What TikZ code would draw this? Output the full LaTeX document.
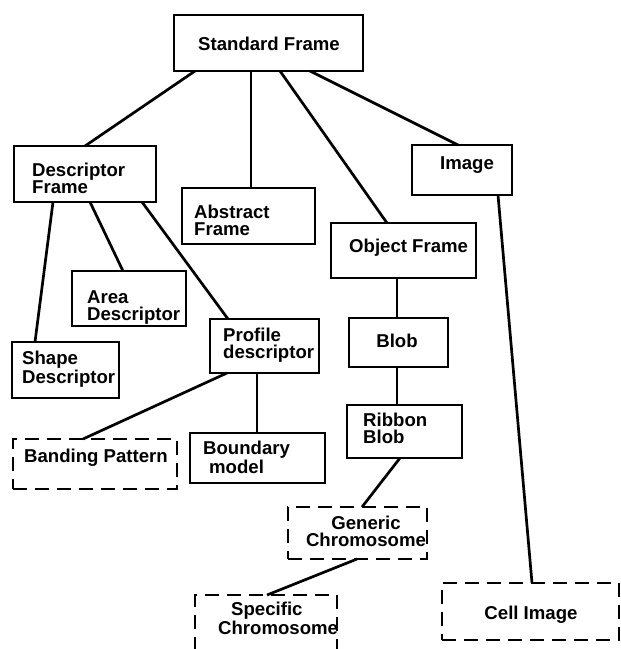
\documentclass[tikz,border=0pt]{standalone}
\usepackage{fontspec}
\setmainfont{Liberation Sans}
\begin{document}
\begin{tikzpicture}[x=1pt,y=-1pt,
  box/.style={draw, line width=2.8pt, inner sep=0pt, outer sep=0pt, anchor=north west},
  dbox/.style={box, dash pattern=on 14pt off 8pt},
  lbl/.style={font=\fontsize{18.6}{17}\selectfont\bfseries, inner sep=0pt, align=left},
  link/.style={line width=2.7pt}]
\useasboundingbox (0,0) rectangle (621,649);
\fill[white] (0,0) rectangle (621,649);
\begin{scope}
\clip (0,0) rectangle (621,649);

% frames
\node[box, minimum width=189pt, minimum height=56pt] (sf) at (174,15) {};
\node[box, minimum width=142pt, minimum height=56pt] (df) at (14,146) {};
\node[box, minimum width=133pt, minimum height=56pt] (af) at (182,188) {};
\node[box, minimum width=100pt, minimum height=50pt] (im) at (412,145) {};
\node[box, minimum width=145pt, minimum height=55pt] (of) at (331,223) {};
\node[box, minimum width=114pt, minimum height=55pt] (ad) at (72,271) {};
\node[box, minimum width=107pt, minimum height=56pt] (sd) at (12,342) {};
\node[box, minimum width=109pt, minimum height=54pt] (pd) at (210,319) {};
\node[box, minimum width=99pt,  minimum height=49pt] (bl) at (349,318) {};
\node[box, minimum width=115pt, minimum height=53pt] (rb) at (347,405) {};
\node[dbox, minimum width=164pt, minimum height=50pt] (bp) at (13,439) {};
\node[box, minimum width=135pt, minimum height=50pt] (bm) at (190,433) {};
\node[dbox, minimum width=139pt, minimum height=52pt] (gc) at (288,507) {};
\node[dbox, minimum width=142pt, minimum height=70pt] (sc) at (195,595) {};
\node[dbox, minimum width=177pt, minimum height=57pt] (ci) at (442,583) {};

% labels (multi-line labels are placed by the baseline of their last line)
\node[lbl, anchor=base] (sf-t) at (269,50) {Standard Frame};
\node[lbl, anchor=base west] (df-t) at (32,193) {Descriptor\\Frame};
\node[lbl, anchor=base west] (af-t) at (194,235) {Abstract\\Frame};
\node[lbl, anchor=base] (im-t) at (467,169) {Image};
\node[lbl, anchor=base west] (of-t) at (349,252) {Object Frame};
\node[lbl, anchor=base west] (ad-t) at (87,320) {Area\\Descriptor};
\node[lbl, anchor=base west] (sd-t) at (22,383) {Shape\\Descriptor};
\node[lbl, anchor=base west] (pd-t) at (223,358) {Profile\\descriptor};
\node[lbl, anchor=base] (bl-t) at (397,347) {Blob};
\node[lbl, anchor=base west] (rb-t) at (363,443) {Ribbon\\Blob};
\node[lbl, anchor=base] (bp-t) at (96,462) {Banding Pattern};
\node[lbl, anchor=base west] (bm-t) at (203,473) {Boundary\\\hspace*{6pt}model};
\node[lbl, anchor=base, align=center] (gc-t) at (366,546) {Generic\\Chromosome};
\node[lbl, anchor=base west] (sc-t) at (218,634) {\hspace*{13pt}Specific\\Chromosome};
\node[lbl, anchor=base] (ci-t) at (531,619) {Cell Image};

% links
\draw[link] ([xshift=21pt]sf.south west) -- ([xshift=71pt]df.north west);
\draw[link] ([xshift=77pt]sf.south west) -- ([xshift=69pt]af.north west);
\draw[link] ([xshift=106pt]sf.south west) -- ([xshift=56pt]of.north west);
\draw[link] ([xshift=136pt]sf.south west) -- ([xshift=46pt]im.north west);
\draw[link] ([xshift=39pt]df.south west) -- ([xshift=23pt]sd.north west);
\draw[link] ([xshift=76pt]df.south west) -- ([xshift=51pt]ad.north west);
\draw[link] ([xshift=128pt]df.south west) -- ([xshift=18pt]pd.north west);
\draw[link] ([xshift=66pt]of.south west) -- ([xshift=48pt]bl.north west);
\draw[link] ([xshift=48pt]bl.south west) -- ([xshift=50pt]rb.north west);
\draw[link] ([xshift=17pt]pd.south west) -- ([xshift=70pt]bp.north west);
\draw[link] ([xshift=47pt]pd.south west) -- ([xshift=67pt]bm.north west);
\draw[link] ([xshift=53pt]rb.south west) -- ([xshift=74pt]gc.north west);
\draw[link] ([xshift=69pt]gc.south west) -- ([xshift=72pt]sc.north west);
\draw[link] ([xshift=86pt]im.south west) -- ([xshift=90pt]ci.north west);
\end{scope}
\end{tikzpicture}
\end{document}
